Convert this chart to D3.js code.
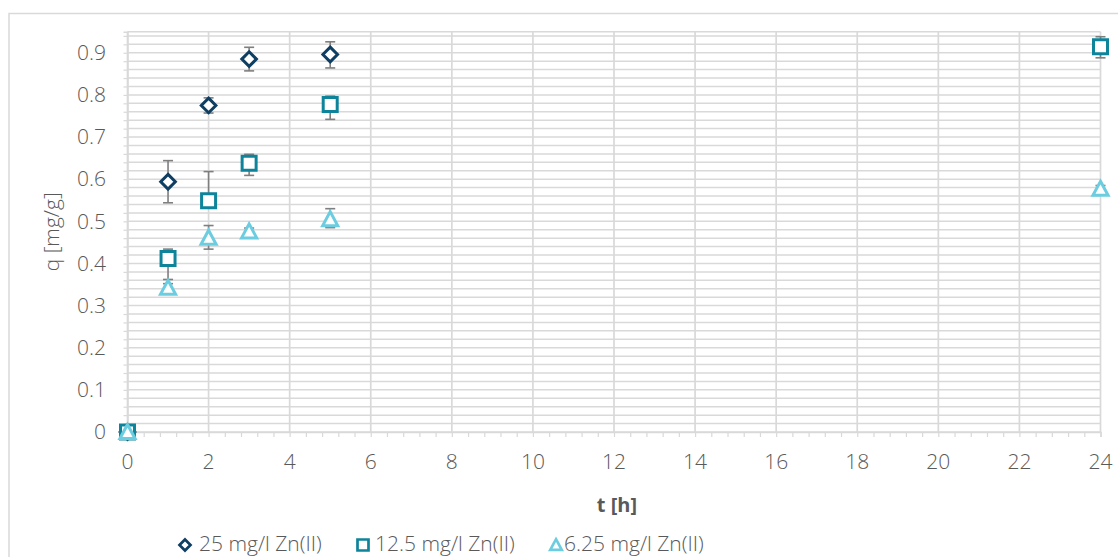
<!DOCTYPE html>
<html>
<head>
<meta charset="utf-8">
<script src="https://cdn.jsdelivr.net/npm/d3@7"></script>
<style>
  html, body { margin: 0; padding: 0; background: #ffffff; }
  svg { display: block; }
  text { font-family: "Open Sans", "Noto Sans", sans-serif; fill: #595959; }
  .light { font-weight: 300; }
</style>
</head>
<body>
<svg id="chart" width="1118" height="557"></svg>
<script>
// ---- data ----
const xTickLabels = [0, 2, 4, 6, 8, 10, 12, 14, 16, 18, 20, 22, 24];
const yTickLabels = [0, 0.1, 0.2, 0.3, 0.4, 0.5, 0.6, 0.7, 0.8, 0.9];
const seriesNames = ["25 mg/l Zn(II)", "12.5 mg/l Zn(II)", "6.25 mg/l Zn(II)"];

const t25 = [0, 1, 2, 3, 5];
const q25 = [0, 0.594, 0.775, 0.885, 0.896];
const e25Plus = [0, 0.050, 0.018, 0.028, 0.030];
const e25Minus = [0, 0.050, 0.018, 0.028, 0.032];

const t12 = [0, 1, 2, 3, 5, 24];
const q12 = [0, 0.412, 0.549, 0.638, 0.777, 0.914];
const e12Plus = [0, 0.022, 0.069, 0.021, 0.020, 0.024];
const e12Minus = [0, 0.050, 0.010, 0.029, 0.035, 0.026];

const t6 = [0, 1, 2, 3, 5, 24];
const q6 = [0, 0.342, 0.461, 0.476, 0.505, 0.577];
const e6Plus = [0, 0.010, 0.029, 0.008, 0.025, 0.008];
const e6Minus = [0, 0.010, 0.027, 0.008, 0.020, 0.008];

const colors = ["#0f3e63", "#0e849b", "#6ccde0"];
const shapes = ["diamond", "square", "triangle"];

// ---- layout ----
const svg = d3.select("#chart");
const x = d3.scaleLinear().domain([0, 24]).range([127.5, 1100.5]);
const y = d3.scaleLinear().domain([0, 0.95]).range([432, 31.7]);
const gridColor = "#d9d9d9";

// outer chart border
svg.append("rect")
  .attr("x", 9).attr("y", 13.5).attr("width", 1300).attr("height", 700)
  .attr("fill", "none").attr("stroke", gridColor).attr("stroke-width", 1.5);

// horizontal gridlines (minor every 0.02, major every 0.1)
const hLines = d3.range(0, 96, 2).map(v => v / 100).concat([0.95]);
svg.append("g").selectAll("line").data(hLines).join("line")
  .attr("x1", x(0)).attr("x2", x(24))
  .attr("y1", d => y(d)).attr("y2", d => y(d))
  .attr("stroke", gridColor).attr("stroke-width", 1.5);

// vertical gridlines every 2
svg.append("g").selectAll("line").data(xTickLabels).join("line")
  .attr("x1", d => x(d)).attr("x2", d => x(d))
  .attr("y1", y(0.95)).attr("y2", y(0))
  .attr("stroke", gridColor).attr("stroke-width", 1.7);

// x axis minor ticks (every 0.4)
const xAxis = d3.axisBottom(x)
  .tickValues(d3.range(0, 61).map(i => i * 0.4))
  .tickSize(5).tickFormat("");
const gx = svg.append("g").attr("transform", `translate(0,${y(0)})`).call(xAxis);
gx.select(".domain").attr("stroke", gridColor).attr("stroke-width", 1.5);
gx.selectAll(".tick line").attr("stroke", gridColor).attr("stroke-width", 1.2);

// x tick labels
svg.append("g").selectAll("text").data(xTickLabels).join("text")
  .attr("class", "light")
  .attr("x", d => x(d)).attr("y", 469)
  .attr("text-anchor", "middle").attr("font-size", 21)
  .text(d => d);

// y axis minor ticks (every 0.02)
const yAxis = d3.axisLeft(y)
  .tickValues(d3.range(0, 48).map(i => i * 0.02))
  .tickSize(4).tickFormat("");
const gy = svg.append("g").attr("transform", `translate(${x(0)},0)`).call(yAxis);
gy.select(".domain").attr("stroke", gridColor).attr("stroke-width", 1.5);
gy.selectAll(".tick line").attr("stroke", gridColor).attr("stroke-width", 1.2);

// y tick labels
svg.append("g").selectAll("text").data(yTickLabels).join("text")
  .attr("class", "light")
  .attr("x", 106).attr("y", d => y(d) + 7.3)
  .attr("text-anchor", "end").attr("font-size", 21)
  .text(d => d === 0 ? "0" : d3.format(".1f")(d));

// axis titles
svg.append("text")
  .attr("class", "light")
  .attr("transform", `translate(59,${(y(0) + y(0.95)) / 2}) rotate(-90)`)
  .attr("text-anchor", "middle").attr("font-size", 21)
  .text("q [mg/g]");
svg.append("text")
  .attr("x", 617).attr("y", 512)
  .attr("text-anchor", "middle").attr("font-size", 20).attr("font-weight", "bold")
  .text("t [h]");

// ---- marker shapes ----
function shapePath(shape, s) {
  if (shape === "diamond") return `M0,${-s}L${s},0L0,${s}L${-s},0Z`;
  if (shape === "square") return `M${-s},${-s}H${s}V${s}H${-s}Z`;
  return `M0,${-s * 1.05}L${s * 1.05},${s * 0.9}H${-s * 1.05}Z`;
}

const series = [
  { t: t25, q: q25, ep: e25Plus, em: e25Minus },
  { t: t12, q: q12, ep: e12Plus, em: e12Minus },
  { t: t6, q: q6, ep: e6Plus, em: e6Minus }
];
const markerSize = [7.3, 7, 7.2];

series.forEach((s, si) => {
  const pts = s.t.map((t, i) => ({ t, q: s.q[i], ep: s.ep[i], em: s.em[i] }));
  const g = svg.append("g");
  // error bars
  const eb = g.append("g").attr("stroke", "#7f7f7f").attr("stroke-width", 1.6);
  pts.filter(d => d.ep > 0 || d.em > 0).forEach(d => {
    const cx = x(d.t);
    eb.append("line").attr("x1", cx).attr("x2", cx)
      .attr("y1", y(d.q + d.ep)).attr("y2", y(d.q - d.em));
    eb.append("line").attr("x1", cx - 5).attr("x2", cx + 5)
      .attr("y1", y(d.q + d.ep)).attr("y2", y(d.q + d.ep));
    eb.append("line").attr("x1", cx - 5).attr("x2", cx + 5)
      .attr("y1", y(d.q - d.em)).attr("y2", y(d.q - d.em));
  });
  // markers
  g.append("g").selectAll("path").data(pts).join("path")
    .attr("transform", d => `translate(${x(d.t)},${y(d.q)})`)
    .attr("d", shapePath(shapes[si], markerSize[si]))
    .attr("fill", "#ffffff").attr("stroke", colors[si])
    .attr("stroke-width", 3).attr("stroke-linejoin", "miter");
});

// ---- legend ----
const legendItems = [
  { mx: 185, tx: 199 },
  { mx: 363, tx: 375 },
  { mx: 556, tx: 564 }
];
const lg = svg.append("g");
legendItems.forEach((it, i) => {
  lg.append("path")
    .attr("transform", `translate(${it.mx},545)`)
    .attr("d", shapePath(shapes[i], 5.5))
    .attr("fill", "#ffffff").attr("stroke", colors[i]).attr("stroke-width", 2.7);
  lg.append("text")
    .attr("class", "light")
    .attr("x", it.tx).attr("y", 550.5).attr("font-size", 21)
    .text(seriesNames[i]);
});
</script>
</body>
</html>
